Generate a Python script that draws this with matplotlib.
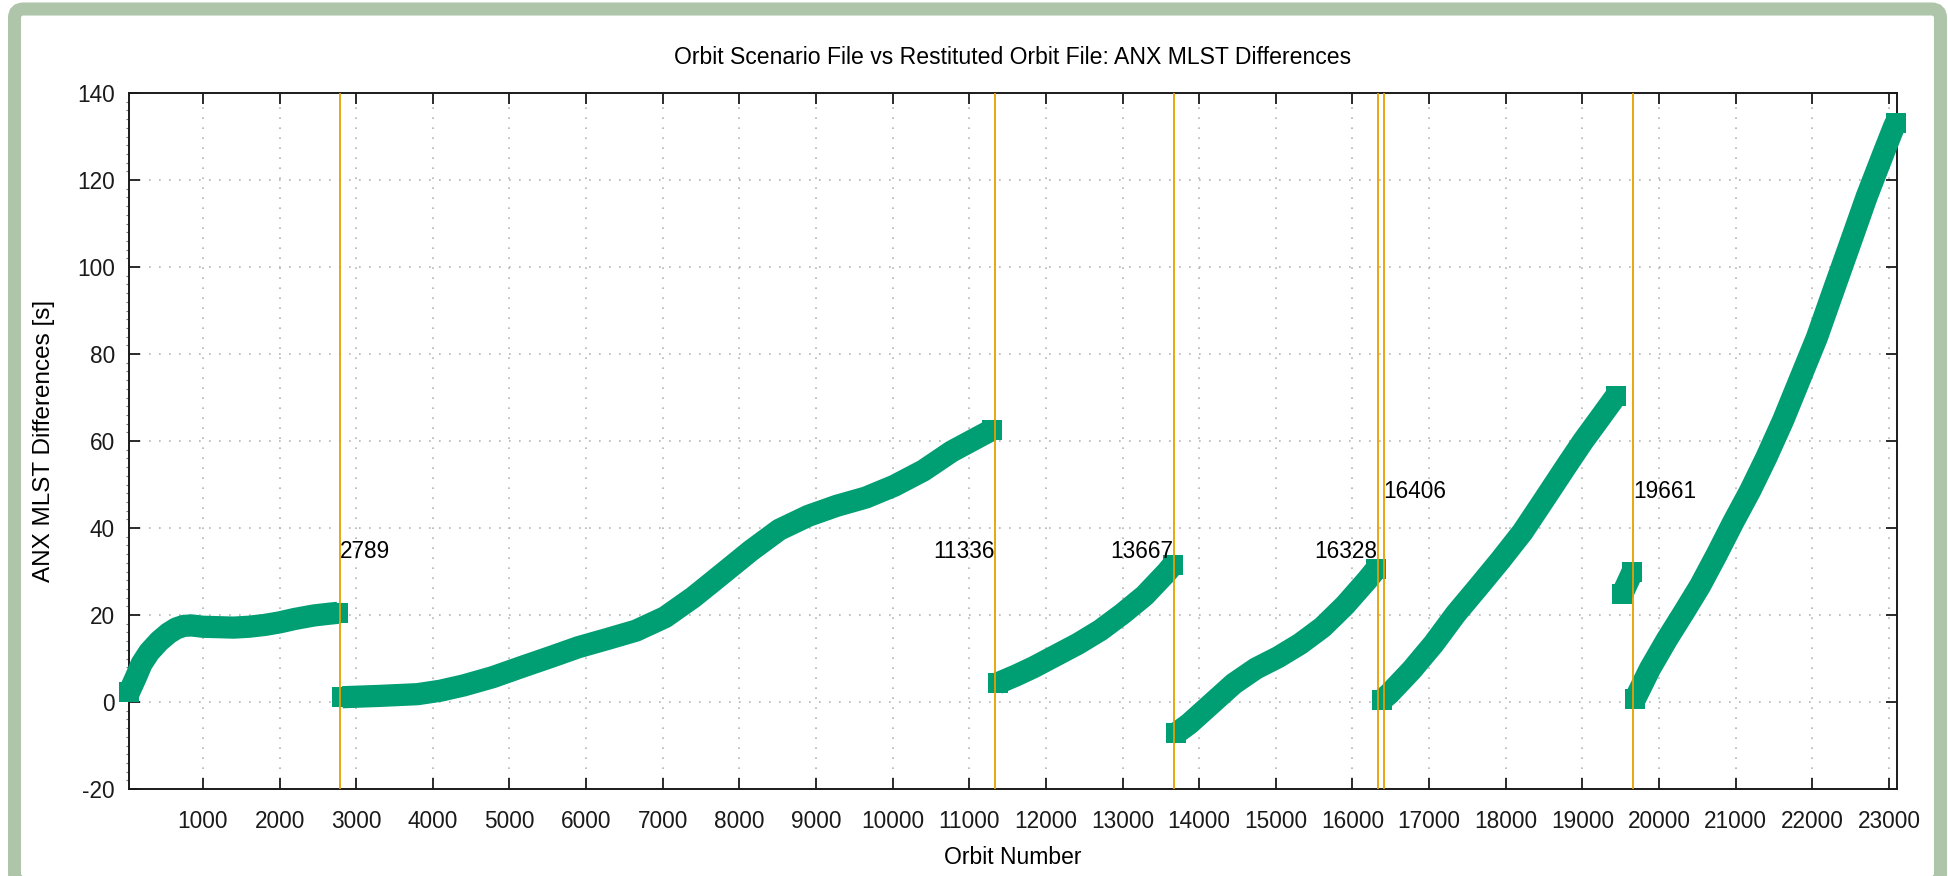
import numpy as np
import matplotlib
matplotlib.use("Agg")
import matplotlib.pyplot as plt
from matplotlib.patches import FancyBboxPatch
from matplotlib.ticker import MultipleLocator

plt.rcParams['font.family'] = ['Liberation Sans', 'DejaVu Sans']
plt.rcParams['axes.unicode_minus'] = False

# ANX MLST difference segments (orbit number, seconds)
seg1_orbit = [35, 120, 200, 300, 430, 550, 650, 750, 850, 1000, 1200, 1400, 1600, 1800, 2000, 2200, 2450, 2650, 2760]
seg1_diff = [2.2, 5.5, 8.8, 11.5, 14.0, 15.8, 16.9, 17.5, 17.6, 17.3, 17.2, 17.1, 17.3, 17.7, 18.3, 19.1, 19.9, 20.3, 20.5]

seg2_orbit = [2820, 3300, 3800, 4100, 4400, 4780, 5150, 5530, 5900, 6280, 6650, 7030, 7400, 7780, 8150, 8520,
              8900, 9270, 9650, 10020, 10400, 10770, 11150, 11300]
seg2_diff = [1.1, 1.4, 1.8, 2.6, 3.8, 5.7, 8.0, 10.3, 12.6, 14.5, 16.4, 19.5, 24.1, 29.5, 34.8, 39.6,
             42.8, 45.1, 47.0, 49.7, 53.2, 57.6, 61.2, 62.6]

seg3_orbit = [11370, 11610, 11840, 12130, 12420, 12710, 13000, 13290, 13580, 13660]
seg3_diff = [4.3, 6.1, 8.0, 10.7, 13.4, 16.5, 20.3, 24.5, 29.9, 31.6]

seg4_orbit = [13700, 13870, 14160, 14450, 14740, 15030, 15320, 15610, 15900, 16190, 16310]
seg4_diff = [-7.2, -5.0, -0.4, 4.2, 7.7, 10.3, 13.4, 17.2, 22.2, 28.0, 30.6]

seg5_orbit = [16380, 16480, 16770, 17060, 17350, 17640, 17930, 18220, 18500, 18800, 19010, 19230, 19440]
seg5_diff = [0.4, 1.9, 7.3, 13.4, 20.3, 26.4, 32.6, 39.1, 46.5, 54.5, 60.0, 65.3, 70.4]

seg5b_orbit = [19520, 19650]
seg5b_diff = [24.8, 29.8]

seg6_orbit = [19690, 19880, 20100, 20320, 20535, 20750, 20970, 21190, 21400, 21620, 21840, 22060, 22270,
              22490, 22710, 22930, 23060, 23090]
seg6_diff = [0.8, 7.6, 14.3, 20.5, 26.7, 33.8, 41.4, 48.6, 56.2, 64.8, 74.3, 83.8, 94.3,
             105.2, 116.2, 126.2, 132.0, 133.2]

segments = [(seg1_orbit, seg1_diff), (seg2_orbit, seg2_diff), (seg3_orbit, seg3_diff), (seg4_orbit, seg4_diff),
            (seg5_orbit, seg5_diff), (seg5b_orbit, seg5b_diff), (seg6_orbit, seg6_diff)]

# manoeuvre orbits, label height and side
event_orbit = [2789, 11336, 13667, 16328, 16406, 19661]
event_label_y = [34.5, 34.5, 34.5, 34.5, 48.5, 48.5]
event_side = ["right", "left", "left", "left", "right", "right"]

green = "#009e73"
orange = "#e69f00"
fs = 16.3

fig = plt.figure(figsize=(19.49, 8.76), dpi=100)
ax = fig.add_axes([129/1949, (876-789)/876, (1897-129)/1949, (789-93)/876])

for orb, diff in segments:
    # thick band, squarish blobs at both ends like the gnuplot points
    ax.plot(orb, diff, color=green, lw=16, solid_capstyle="butt", solid_joinstyle="round",
            marker="s", ms=14, mew=0, markevery=[0, -1], zorder=3, clip_on=False)

for orb, ly, side in zip(event_orbit, event_label_y, event_side):
    ax.axvline(orb, color=orange, lw=1.3, zorder=4)
    if side == "right":
        ax.text(orb, ly, str(orb), ha="left", va="center", fontsize=fs, zorder=5)
    else:
        ax.text(orb, ly, str(orb), ha="right", va="center", fontsize=fs, zorder=5)

ax.set_xlim(35, 23105)
ax.set_ylim(-20, 140)
ax.set_xticks(np.arange(1000, 23001, 1000))
ax.set_yticks(np.arange(-20, 141, 20))
ax.yaxis.set_minor_locator(MultipleLocator(2))
ax.tick_params(which="major", direction="in", length=8, width=1.3, top=True, right=True, labelsize=fs, colors="#1a1a1a")
ax.tick_params(axis="x", pad=15)
ax.tick_params(axis="y", pad=10)
ax.tick_params(which="minor", axis="y", direction="out", length=2.5, width=0.8, colors="#777777", right=False)
ax.grid(True, color="#b4b4b4", lw=1.2, linestyle=(0, (1, 5)), zorder=0)
ax.set_axisbelow(True)
for sp in ax.spines.values():
    sp.set_linewidth(1.4)
    sp.set_color("#1a1a1a")

ax.set_xlabel("Orbit Number", fontsize=16.5)
ax.xaxis.set_label_coords(0.5, -0.082)
ax.xaxis.label.set_va("top")
ax.set_ylabel("ANX MLST Differences [s]", fontsize=17.5)
ax.yaxis.set_label_coords(-0.042, 0.5)

fig.text(1013/1949, (876-58)/876, "Orbit Scenario File vs Restituted Orbit File: ANX MLST Differences",
         ha="center", va="center", fontsize=16.6)

# rounded sage border around the whole picture
frame = FancyBboxPatch((14.5, -6.5), 1926, 873.5, boxstyle="round,pad=0,rounding_size=9",
                       lw=9.4, ec="#afc5a9", fc="none", transform=None)
fig.add_artist(frame)

fig.savefig("out.png", dpi=100)
